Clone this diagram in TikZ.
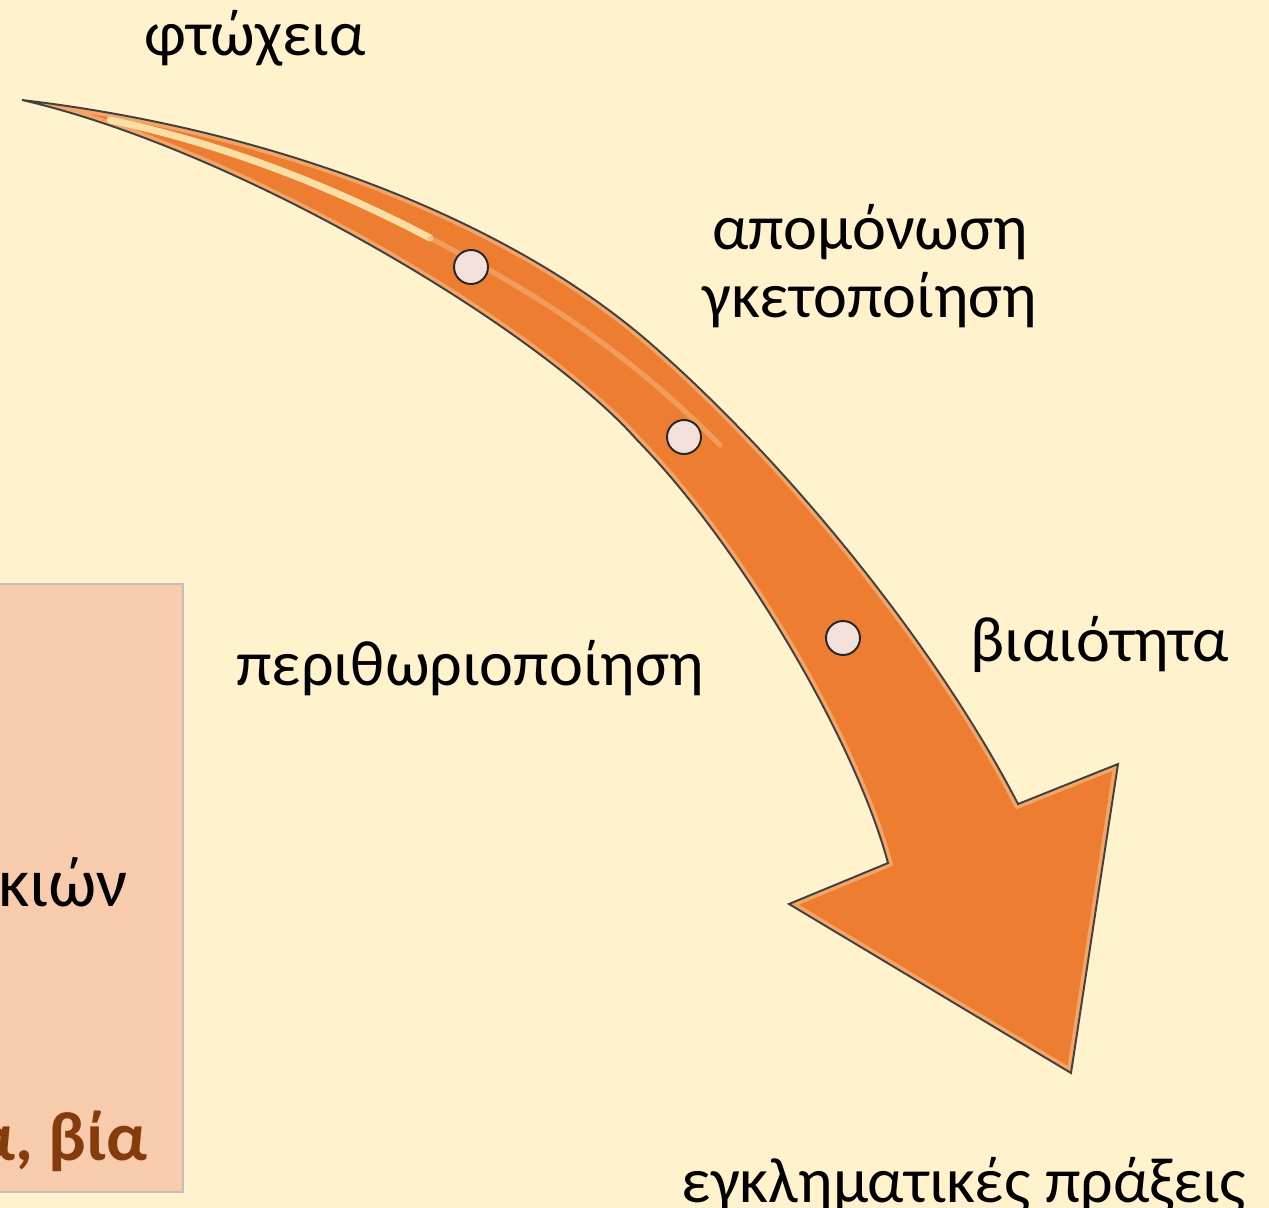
\documentclass[tikz,border=0pt]{standalone}
\usepackage{fontspec}
\setmainfont{Carlito}
\definecolor{bgcol}{HTML}{FFF2CC}
\definecolor{boxcol}{HTML}{F8CBAD}
\definecolor{boxline}{HTML}{BFBFBF}
\definecolor{arrowcol}{HTML}{EC7D31}
\definecolor{arrowline}{HTML}{404040}
\definecolor{arrowlight}{HTML}{F6B27A}
\definecolor{glint}{HTML}{FCE9B0}
\definecolor{dotcol}{HTML}{F4E0DA}
\definecolor{browntext}{HTML}{843C0C}
\tikzset{
  label/.style={font=\fontsize{36.5}{44}\selectfont, text=black, inner sep=0pt, anchor=base},
  boxlabel/.style={font=\fontsize{39.5}{47}\selectfont, text=black, inner sep=0pt, anchor=base east},
  boldlabel/.style={font=\fontsize{39.5}{47}\selectfont\bfseries, text=browntext, inner sep=0pt, anchor=base east},
  dotmark/.style={circle, minimum size=0.68cm, inner sep=0pt, fill=dotcol, draw=black!85, line width=1.1pt},
}
\begin{document}
\begin{tikzpicture}[x=0.02cm,y=-0.02cm]
\useasboundingbox (0,0) rectangle (1269,1208);
\clip (0,0) rectangle (1269,1208);
\fill[bgcol] (0,0) rectangle (1269,1208);
% side box
\draw[fill=boxcol, draw=boxline, line width=0.8pt] (-5,584) rectangle (183,1192);
\node[boxlabel] (kion) at (128,906) {κιών};
\node[boldlabel] (via) at (148,1160) {α, βία};
% arrow shape
\path[save path=\arrowp]
  (22,100) .. controls (260,128) and (500,213) .. (650,343)
  .. controls (790,465) and (938,649) .. (1018,804)
  -- (1118,764) -- (1071,1073) -- (789,904) -- (888,863)
  .. controls (855,740) and (740,545) .. (637,440)
  .. controls (540,330) and (240,150) .. (22,100)
  -- cycle;
\fill[arrowcol, use path=\arrowp];
\begin{scope}
  \clip[use path=\arrowp];
  \draw[arrowlight, line width=5pt, opacity=0.75, use path=\arrowp];
  \draw[glint, line width=4pt, line cap=round, opacity=0.9]
    (110,120) .. controls (210,141) and (320,180) .. (430,238);
  \draw[arrowlight, line width=3pt, line cap=round, opacity=0.6]
    (430,238) .. controls (560,305) and (640,365) .. (720,445);
\end{scope}
\draw[arrowline, line width=1.1pt, line join=miter, use path=\arrowp];
% dots
\node[dotmark] (d1) at (471,267) {};
\node[dotmark] (d2) at (684,437) {};
\node[dotmark] (d3) at (843,638) {};
% labels
\node[label] (ftoxeia) at (255,55) {φτώχεια};
\node[label] (apomon) at (870,249) {απομόνωση};
\node[label] (gketo) at (870,317) {γκετοποίηση};
\node[label] (perith) at (470,685) {περιθωριοποίηση};
\node[label] (viaiot) at (1100,661) {βιαιότητα};
\node[label] (egklim) at (964,1202) {εγκληματικές πράξεις};
\end{tikzpicture}
\end{document}
